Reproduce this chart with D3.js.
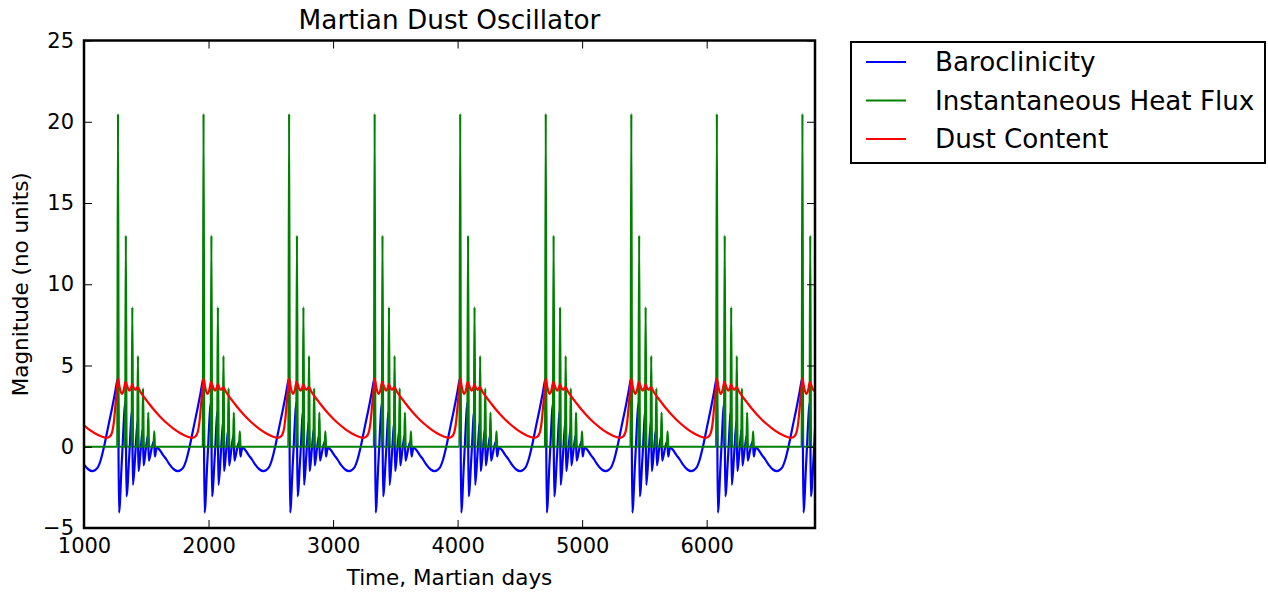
<!DOCTYPE html>
<html>
<head>
<meta charset="utf-8">
<script src="https://cdn.jsdelivr.net/npm/d3@7"></script>
<style>
  body { margin: 0; background: #fff; }
  svg { display: block; font-family: "DejaVu Sans", sans-serif; }
</style>
</head>
<body>
<div id="chart"></div>
<script>
// days (Martian) of the main heat-flux burst in each cycle
const burstDays = [586, 1273, 1960, 2647, 3334, 4021, 4708, 5395, 6082, 6769];

// one cycle, offsets in days from the main burst
const baroOffsets = [0, 8, 30, 61, 68, 90, 113, 120, 140, 158, 165, 182, 199, 206, 224, 241, 248, 270, 289, 296, 304, 312, 330, 361, 390, 415, 450, 482, 522, 549, 575, 610, 640, 665, 682];
const baroValues  = [4.2, -4.05, -1.0, 2.8, -3.05, -0.6, 2.2, -2.35, -0.3, 1.6, -1.5, -0.2, 1.1, -1.15, -0.1, 0.7, -0.85, -0.1, 0.35, -0.6, -0.3, -0.05, -0.15, -0.5, -0.8, -1.1, -1.4, -1.5, -1.3, -0.8, 0.0, 1.3, 2.4, 3.4, 4.1];

const fluxOffsets = [0, 63, 115, 160, 201, 243, 291];
const fluxPeaks   = [20.5, 13.0, 8.6, 5.6, 3.6, 2.1, 0.95];

const dustOffsets = [0, 12, 30, 45, 60, 66, 80, 92, 108, 115, 125, 140, 155, 162, 175, 200, 240, 280, 320, 360, 400, 440, 480, 520, 560, 595, 620, 640, 655, 668, 680];
const dustValues  = [4.2, 3.7, 3.25, 3.45, 4.0, 3.9, 3.6, 3.45, 3.7, 3.85, 3.65, 3.5, 3.65, 3.65, 3.45, 3.15, 2.75, 2.35, 2.0, 1.68, 1.4, 1.15, 0.93, 0.75, 0.62, 0.55, 0.62, 0.9, 1.6, 2.7, 3.7];

const xTicks = [1000, 2000, 3000, 4000, 5000, 6000];
const yTicks = [-5, 0, 5, 10, 15, 20, 25];
const legendNames = ["Baroclinicity", "Instantaneous Heat Flux", "Dust Content"];
const colors = ["#0000ff", "#008000", "#ff0000"];

// lay each cycle down at its burst day
const baroclinicity = [];
const dust = [];
const flux = [[burstDays[0] - 400, 0]];
burstDays.forEach(day => {
    baroOffsets.forEach((o, i) => baroclinicity.push([day + o, baroValues[i]]));
    dustOffsets.forEach((o, i) => dust.push([day + o, dustValues[i]]));
    fluxOffsets.forEach((o, i) => {
        flux.push([day + o - 6, 0]);
        flux.push([day + o, fluxPeaks[i]]);
        flux.push([day + o + 6, 0]);
    });
});
flux.push([burstDays[burstDays.length - 1] + 700, 0]);

const width = 1268, height = 593;
const margin = { top: 40.5, right: 453, bottom: 65, left: 84 };
const plotW = width - margin.left - margin.right;
const plotH = height - margin.top - margin.bottom;

const svg = d3.select("#chart").append("svg")
    .attr("width", width)
    .attr("height", height);

const g = svg.append("g")
    .attr("transform", `translate(${margin.left}, ${margin.top})`);

const x = d3.scaleLinear().domain([1000, 6870]).range([0, plotW]);
const y = d3.scaleLinear().domain([-5, 25]).range([plotH, 0]);

g.append("clipPath").attr("id", "plot-clip")
    .append("rect").attr("width", plotW).attr("height", plotH);

const line = d3.line()
    .x(d => x(d[0]))
    .y(d => y(d[1]))
    .curve(d3.curveMonotoneX);

const lines = g.append("g").attr("clip-path", "url(#plot-clip)");
[baroclinicity, flux, dust].forEach((series, i) => {
    lines.append("path")
        .datum(series)
        .attr("fill", "none")
        .attr("stroke", colors[i])
        .attr("stroke-width", 2.2)
        .attr("stroke-linejoin", "round")
        .attr("d", line);
});

// axes, ticks point inward on all four sides
const fmt = d => d < 0 ? "\u2212" + Math.abs(d) : d;
const xAxisBottom = g.append("g")
    .attr("transform", `translate(0, ${plotH})`)
    .call(d3.axisBottom(x).tickValues(xTicks).tickSizeInner(-8).tickSizeOuter(0).tickPadding(10).tickFormat(d => d));
const xAxisTop = g.append("g")
    .call(d3.axisTop(x).tickValues(xTicks).tickSizeInner(-8).tickSizeOuter(0).tickFormat(""));
const yAxisLeft = g.append("g")
    .call(d3.axisLeft(y).tickValues(yTicks).tickSizeInner(-8).tickSizeOuter(0).tickPadding(10).tickFormat(fmt));
const yAxisRight = g.append("g")
    .attr("transform", `translate(${plotW}, 0)`)
    .call(d3.axisRight(y).tickValues(yTicks).tickSizeInner(-8).tickSizeOuter(0).tickFormat(""));

[xAxisBottom, xAxisTop, yAxisLeft, yAxisRight].forEach(a => {
    a.select(".domain").remove();
    a.selectAll("line").attr("stroke", "#000").attr("stroke-width", 1);
    a.selectAll("text")
        .attr("fill", "#000")
        .style("font-family", "DejaVu Sans, sans-serif")
        .style("font-size", "21px");
});

g.append("rect")
    .attr("width", plotW)
    .attr("height", plotH)
    .attr("fill", "none")
    .attr("stroke", "#000")
    .attr("stroke-width", 2.5);

// titles
svg.append("text")
    .attr("x", margin.left + plotW / 2)
    .attr("y", 29)
    .attr("text-anchor", "middle")
    .style("font-size", "26.3px")
    .text("Martian Dust Oscillator");

svg.append("text")
    .attr("x", margin.left + plotW / 2)
    .attr("y", 585)
    .attr("text-anchor", "middle")
    .style("font-size", "21.5px")
    .text("Time, Martian days");

svg.append("text")
    .attr("transform", `translate(28, ${margin.top + plotH / 2}) rotate(-90)`)
    .attr("text-anchor", "middle")
    .style("font-size", "21.5px")
    .text("Magnitude (no units)");

// legend
const legend = svg.append("g").attr("transform", "translate(851, 42)");
legend.append("rect")
    .attr("width", 414)
    .attr("height", 121)
    .attr("fill", "#fff")
    .attr("stroke", "#000")
    .attr("stroke-width", 2);

const item = legend.selectAll(".item")
    .data(legendNames)
    .enter()
    .append("g")
    .attr("transform", (d, i) => `translate(0, ${20 + i * 38.5})`);

item.append("line")
    .attr("x1", 15).attr("x2", 55)
    .attr("stroke", (d, i) => colors[i])
    .attr("stroke-width", 2.2);

item.append("text")
    .attr("x", 84)
    .attr("y", 9)
    .style("font-size", "26.2px")
    .text(d => d);
</script>
</body>
</html>
